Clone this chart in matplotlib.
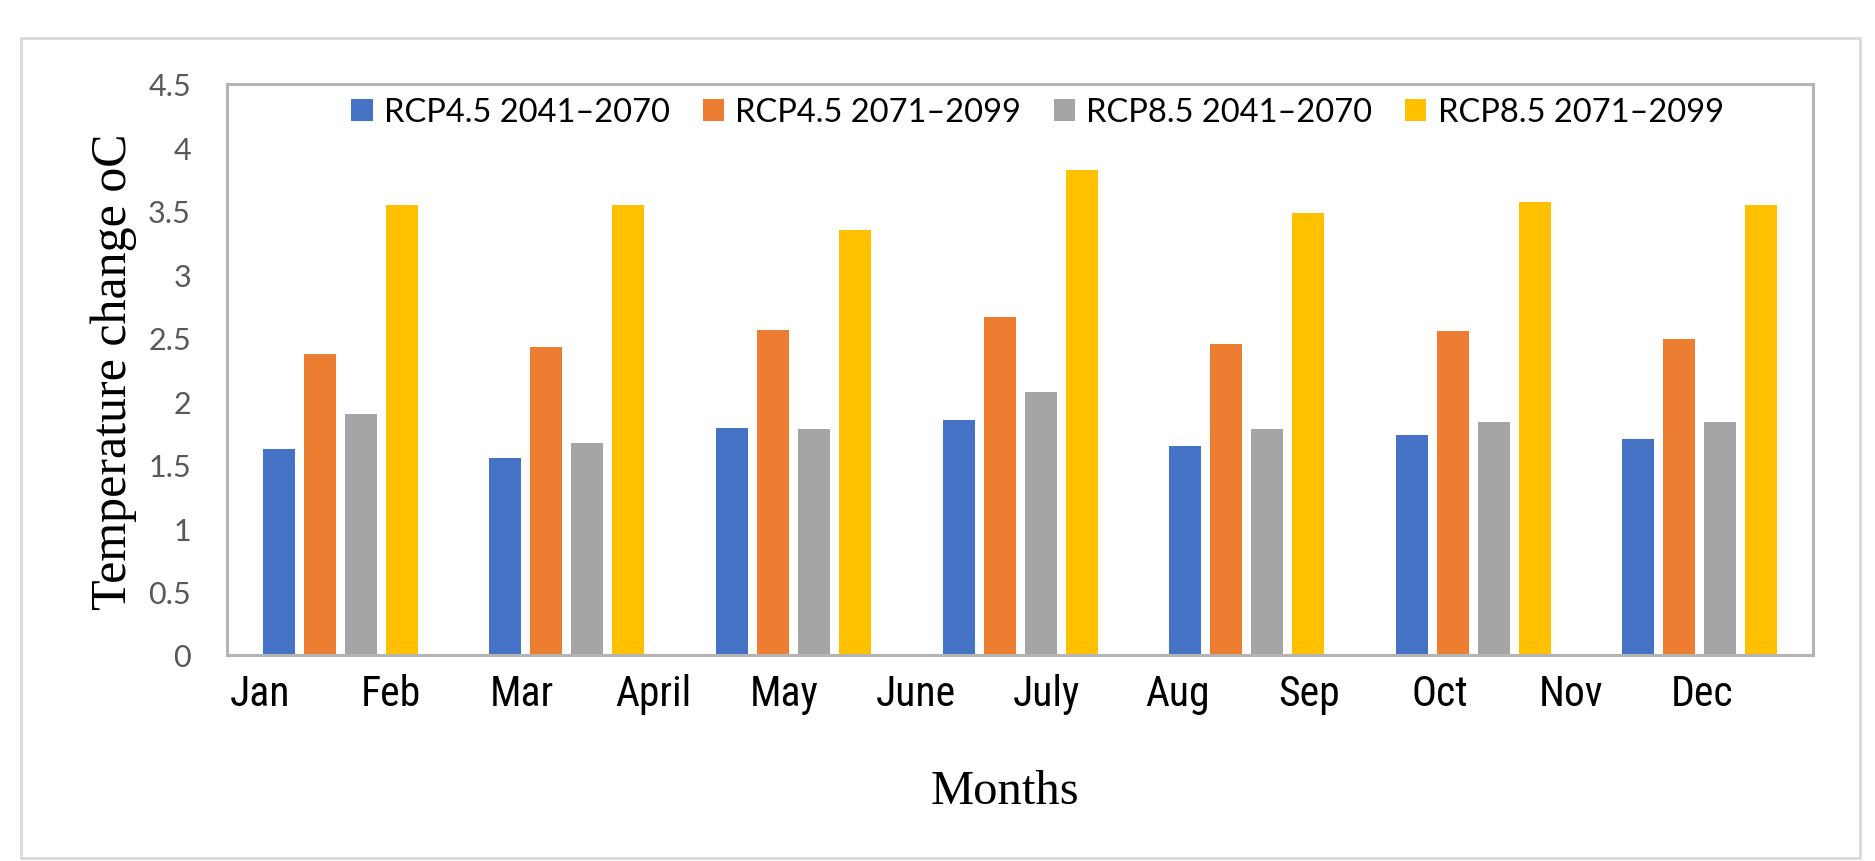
import numpy as np
import matplotlib
matplotlib.use("Agg")
import matplotlib.pyplot as plt
from matplotlib import font_manager
from matplotlib.patches import Rectangle

# values (7 bar groups)
series = ["RCP4.5 2041\u20132070", "RCP4.5 2071\u20132099",
          "RCP8.5 2041\u20132070", "RCP8.5 2071\u20132099"]
rcp45_mid = [1.62, 1.55, 1.79, 1.85, 1.65, 1.73, 1.70]
rcp45_end = [2.37, 2.43, 2.56, 2.66, 2.45, 2.55, 2.49]
rcp85_mid = [1.90, 1.67, 1.78, 2.07, 1.78, 1.84, 1.84]
rcp85_end = [3.55, 3.55, 3.35, 3.82, 3.48, 3.57, 3.55]
months = ["Jan", "Feb", "Mar", "April", "May", "June", "July",
          "Aug", "Sep", "Oct", "Nov", "Dec"]
yticks = [0, 0.5, 1, 1.5, 2, 2.5, 3, 3.5, 4, 4.5]

colors = ["#4472C4", "#ED7D31", "#A5A5A5", "#FFC000"]
installed = {f.name for f in font_manager.fontManager.ttflist}
sans = ["Lato", "DejaVu Sans"]
narrow = [f for f in ["Liberation Sans Narrow", "Roboto Condensed", "Roboto"] if f in installed] + sans
serif = ["Liberation Serif", "DejaVu Serif"]

fig = plt.figure(figsize=(18.75, 8.62), dpi=100)
# outer chart frame
fig.patches.append(Rectangle((0.011, 0.004), 0.981, 0.951, transform=fig.transFigure,
                             fill=False, edgecolor="#D9D9D9", linewidth=2))

ax = fig.add_axes([0.1211, 0.2390, 0.8459, 0.6624])
x = np.arange(len(rcp45_mid))
pitch = 0.181
width = 0.141
for i, vals in enumerate([rcp45_mid, rcp45_end, rcp85_mid, rcp85_end]):
    ax.bar(x + (i - 1.5) * pitch, vals, width, color=colors[i], label=series[i], zorder=2)

ax.set_xlim(-0.5, len(x) - 0.5)
ax.set_ylim(0, 4.5)
ax.set_yticks(yticks)
ax.set_yticklabels([f"{v:g}" for v in yticks], family=sans, fontsize=22, color="#595959")
ax.tick_params(axis="y", length=0, pad=26)

# month labels spread evenly under the axis
ax.set_xticks(np.linspace(-0.354, 6.01, len(months)))
ax.set_xticklabels(months, family=narrow, fontsize=30, color="black")
ax.tick_params(axis="x", length=0, pad=13)

for s in ax.spines.values():
    s.set_color("#B4B4B4")
    s.set_linewidth(2.2)

ax.set_ylabel("Temperature change oC", family=serif, fontsize=36)
ax.yaxis.set_label_coords(-0.057, 0.497)
fig.text(0.536, 0.081, "Months", family=serif, fontsize=35, ha="center", va="center")

ax.legend(loc="upper center", bbox_to_anchor=(0.511, 1.028), ncol=4, frameon=False,
          prop={"family": sans, "size": 23.5}, handlelength=0.65, handleheight=0.65,
          handletextpad=0.35, columnspacing=1.0)

fig.savefig("out.png", dpi=100, facecolor="white")
